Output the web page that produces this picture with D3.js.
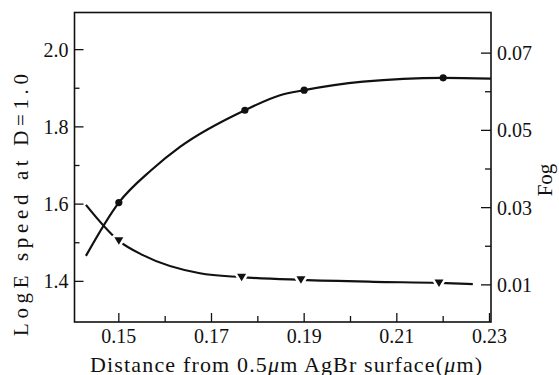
<!DOCTYPE html>
<html><head><meta charset="utf-8">
<script src="https://cdn.jsdelivr.net/npm/d3@7"></script>
<style>
html,body{margin:0;padding:0;background:#fff;}
svg{display:block;}
</style></head>
<body>
<svg id="chart" width="559" height="375"></svg>
<script>
// ---- data ----
const xTicks = [0.15, 0.17, 0.19, 0.21, 0.23];
const xMinorTicks = [0.16, 0.18, 0.20, 0.22];
const speedTicks = [1.4, 1.6, 1.8, 2.0];
const speedMinorTicks = [1.5, 1.7, 1.9];
const fogTicks = [0.01, 0.03, 0.05, 0.07];
const fogMinorTicks = [0.02, 0.04, 0.06];

// speed (left axis) – measured points (circles) and traced curve
const speedX = [0.15, 0.1772, 0.19, 0.22];
const speedY = [1.604, 1.843, 1.895, 1.927];
const speedCurveX = [0.1429, 0.15, 0.1571, 0.1632, 0.1772, 0.1848, 0.19, 0.2027, 0.22, 0.2303];
const speedCurveY = [1.466, 1.604, 1.689, 1.748, 1.843, 1.882, 1.895, 1.917, 1.927, 1.925];

// fog (right axis) – measured points (triangles) and traced curve
const fogX = [0.15, 0.1765, 0.1893, 0.2191];
const fogY = [0.0214, 0.0120, 0.0113, 0.0105];
const fogCurveX = [0.1429, 0.15, 0.1552, 0.1675, 0.1765, 0.1893, 0.205, 0.2191, 0.2264];
const fogCurveY = [0.0307, 0.0214, 0.0177, 0.0130, 0.0120, 0.0113, 0.0108, 0.0105, 0.0102];

// ---- layout ----
const FONT = '"Liberation Serif", "Times New Roman", Tinos, Times, "DejaVu Serif", serif';
const svg = d3.select("#chart").attr("font-family", FONT);
const box = {l: 74.5, r: 491, t: 12.5, b: 322};
const x = d3.scaleLinear().domain([0.14, 0.23]).range([72.5, 489.5]);
const yL = d3.scaleLinear().domain([1.3, 2.1]).range([320, 11]);
const yR = d3.scaleLinear().domain([0, 0.08]).range([323.5, 14.5]);

// frame
svg.append("rect").attr("x", box.l).attr("y", box.t)
  .attr("width", box.r - box.l).attr("height", box.b - box.t)
  .attr("fill", "none").attr("stroke", "#111").attr("stroke-width", 1.6);

const tk = svg.append("g").attr("stroke", "#111").attr("stroke-width", 1.3);
xTicks.forEach(v => tk.append("line").attr("x1", x(v)).attr("x2", x(v)).attr("y1", box.b).attr("y2", box.b - 9));
xMinorTicks.forEach(v => tk.append("line").attr("x1", x(v)).attr("x2", x(v)).attr("y1", box.b).attr("y2", box.b - 6));
speedTicks.forEach(v => tk.append("line").attr("x1", box.l).attr("x2", box.l + 9).attr("y1", yL(v)).attr("y2", yL(v)));
speedMinorTicks.forEach(v => tk.append("line").attr("x1", box.l).attr("x2", box.l + 5).attr("y1", yL(v)).attr("y2", yL(v)));
fogTicks.forEach(v => tk.append("line").attr("x1", box.r).attr("x2", box.r - 10).attr("y1", yR(v)).attr("y2", yR(v)));
fogMinorTicks.forEach(v => tk.append("line").attr("x1", box.r).attr("x2", box.r - 6).attr("y1", yR(v)).attr("y2", yR(v)));

// tick labels
const fs = 20;
const T = sel => sel.attr("fill", "#111").style("font-family", FONT);
xTicks.forEach(v => T(svg.append("text")).attr("x", x(v)).attr("y", 343).attr("text-anchor", "middle")
  .attr("font-size", fs).text(d3.format(".2f")(v)));
speedTicks.forEach(v => T(svg.append("text")).attr("x", 68.5).attr("y", yL(v) + 7).attr("text-anchor", "end")
  .attr("font-size", fs).text(d3.format(".1f")(v)));
fogTicks.forEach(v => T(svg.append("text")).attr("x", 497).attr("y", yR(v) + 7).attr("text-anchor", "start")
  .attr("font-size", fs).text(d3.format(".2f")(v)));

// axis titles
const xt = T(svg.append("text")).attr("x", 286).attr("y", 371.5).attr("text-anchor", "middle")
  .attr("font-size", 22).attr("textLength", 392).attr("lengthAdjust", "spacing");
xt.append("tspan").text("Distance from 0.5");
xt.append("tspan").attr("font-style", "italic").text("\u03bc");
xt.append("tspan").text("m AgBr surface(");
xt.append("tspan").attr("font-style", "italic").text("\u03bc");
xt.append("tspan").text("m)");

T(svg.append("text")).attr("transform", "translate(28,205) rotate(-90)").attr("text-anchor", "middle")
  .attr("font-size", 21).attr("textLength", 262).attr("lengthAdjust", "spacing")
  .text("LogE speed at D=1.0");
T(svg.append("text")).attr("transform", "translate(552,180) rotate(-90)").attr("text-anchor", "middle")
  .attr("font-size", 21).text("Fog");

// curves
const lineL = d3.line().x(d => x(d[0])).y(d => yL(d[1])).curve(d3.curveMonotoneX);
const lineR = d3.line().x(d => x(d[0])).y(d => yR(d[1])).curve(d3.curveMonotoneX);

svg.append("path").datum(d3.zip(speedCurveX, speedCurveY)).attr("d", lineL)
  .attr("fill", "none").attr("stroke", "#111").attr("stroke-width", 2.2);
svg.append("path").datum(d3.zip(fogCurveX, fogCurveY)).attr("d", lineR)
  .attr("fill", "none").attr("stroke", "#111").attr("stroke-width", 2.2);

// circle markers
svg.selectAll("circle.sp").data(d3.zip(speedX, speedY)).join("circle")
  .attr("cx", d => x(d[0])).attr("cy", d => yL(d[1])).attr("r", 3.6).attr("fill", "#111");

// triangle markers with white halo (gap in line)
const tri = "M-4.5,-3.5L4.5,-3.5L0,4Z";
svg.selectAll("path.fogm").data(d3.zip(fogX, fogY)).join("path")
  .attr("transform", d => `translate(${x(d[0])},${yR(d[1])})`)
  .attr("d", tri).attr("fill", "#111").attr("stroke", "#fff").attr("stroke-width", 5)
  .attr("paint-order", "stroke").attr("stroke-linejoin", "round");
</script>
</body></html>
